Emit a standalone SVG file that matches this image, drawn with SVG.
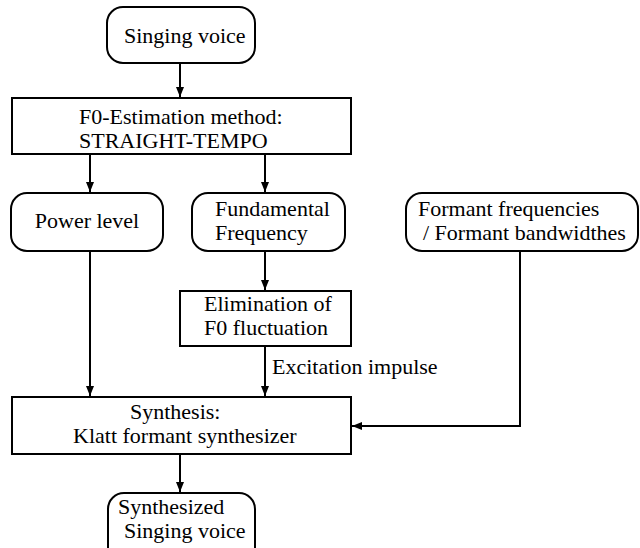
<svg xmlns="http://www.w3.org/2000/svg" width="640" height="548" viewBox="0 0 640 548" font-family="'Liberation Serif', 'Times New Roman', Tinos, 'DejaVu Serif', serif">
<defs>
<marker id="arr" viewBox="0 0 10 10" refX="10" refY="5" markerWidth="10" markerHeight="10" markerUnits="userSpaceOnUse" orient="auto">
<path d="M0,1 L10,5 L0,9 Z" fill="#000"/>
</marker>
</defs>
<style>
.box{fill:#fff;stroke:#000;stroke-width:2}
.t{font-family:'Liberation Serif','Times New Roman',Tinos,'DejaVu Serif',serif;font-size:22px;fill:#000}
.c{stroke:#000;stroke-width:2;fill:none}
</style>
<rect width="640" height="548" fill="#fff"/>
<g id="connectors">
<line class="c" x1="180" y1="63" x2="180" y2="97" marker-end="url(#arr)"/>
<line class="c" x1="90" y1="154" x2="90" y2="192" marker-end="url(#arr)"/>
<line class="c" x1="265" y1="154" x2="265" y2="192" marker-end="url(#arr)"/>
<line class="c" x1="265" y1="251" x2="265" y2="290" marker-end="url(#arr)"/>
<line class="c" x1="265" y1="345" x2="265" y2="396" marker-end="url(#arr)"/>
<line class="c" x1="90" y1="251" x2="90" y2="396" marker-end="url(#arr)"/>
<polyline class="c" points="520,251 520,426 352,426" marker-end="url(#arr)"/>
<line class="c" x1="180" y1="454" x2="180" y2="492" marker-end="url(#arr)"/>
<text class="t" x="272" y="374">Excitation impulse</text>
</g>
<g id="singing-voice">
<rect class="box" x="107" y="7" width="148" height="56" rx="16"/>
<text class="t" x="124" y="43">Singing voice</text>
</g>
<g id="f0-estimation">
<rect class="box" x="12" y="98" width="339" height="56"/>
<text class="t" x="79" y="124">F0-Estimation method:</text>
<text class="t" x="79" y="148">STRAIGHT-TEMPO</text>
</g>
<g id="power-level">
<rect class="box" x="11" y="193" width="152" height="58" rx="16"/>
<text class="t" x="87" y="228" text-anchor="middle">Power level</text>
</g>
<g id="fundamental-frequency">
<rect class="box" x="192" y="193" width="153" height="58" rx="16"/>
<text class="t" x="215" y="216">Fundamental</text>
<text class="t" x="215" y="240">Frequency</text>
</g>
<g id="formant">
<rect class="box" x="406" y="193" width="232" height="58" rx="16"/>
<text class="t" x="418" y="216">Formant frequencies</text>
<text class="t" x="423" y="240">/ Formant bandwidthes</text>
</g>
<g id="elimination">
<rect class="box" x="180" y="291" width="171" height="55"/>
<text class="t" x="204" y="311">Elimination of</text>
<text class="t" x="204" y="335">F0 fluctuation</text>
</g>
<g id="synthesis">
<rect class="box" x="12" y="397" width="339" height="57"/>
<text class="t" x="130" y="419">Synthesis:</text>
<text class="t" x="73" y="443">Klatt formant synthesizer</text>
</g>
<g id="synthesized">
<rect class="box" x="108" y="493" width="147" height="70" rx="16"/>
<text class="t" x="118" y="514">Synthesized</text>
<text class="t" x="124" y="538">Singing voice</text>
</g>
</svg>
